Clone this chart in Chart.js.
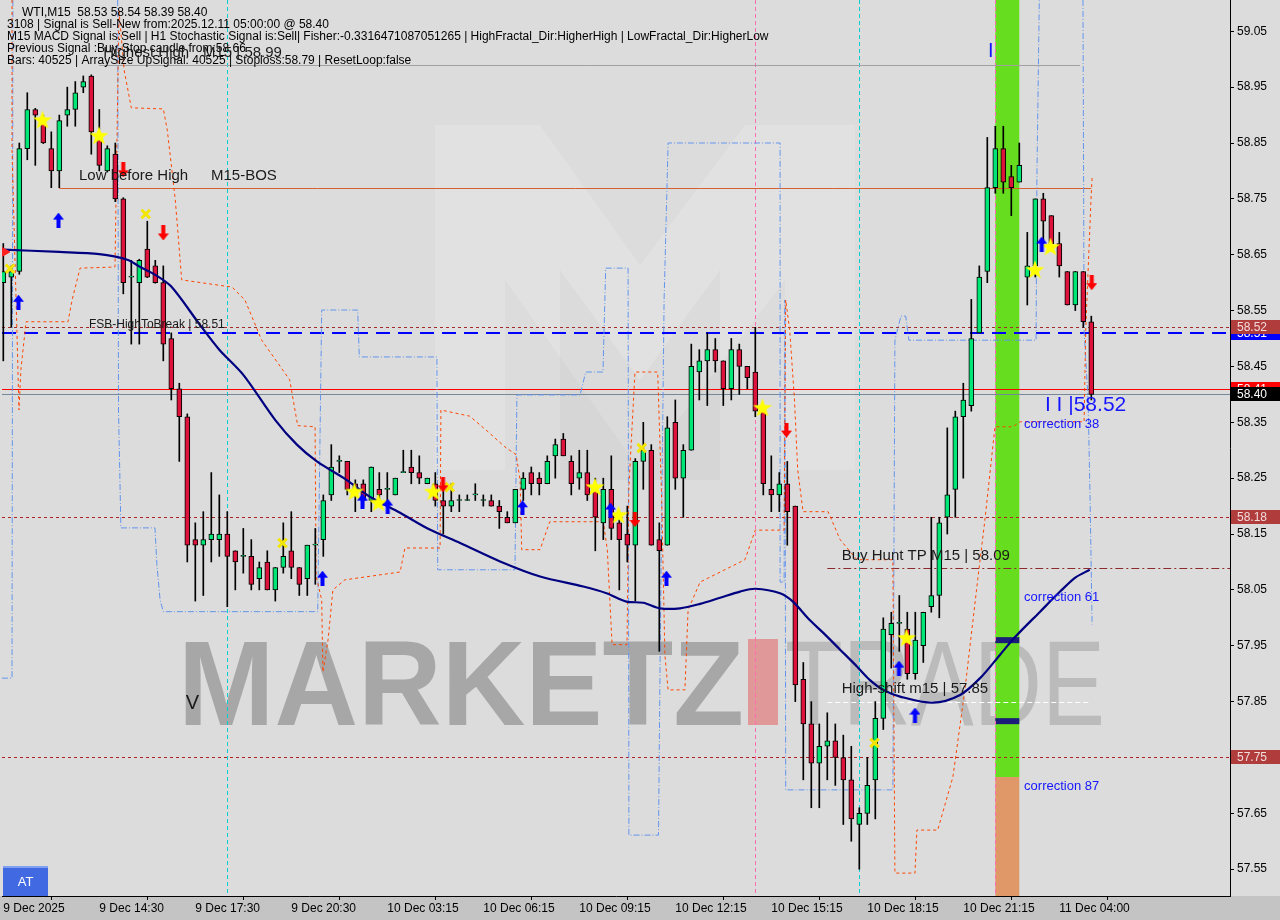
<!DOCTYPE html>
<html>
<head>
<meta charset="utf-8">
<script src="https://cdn.jsdelivr.net/npm/chart.js@4.4.1/dist/chart.umd.min.js"></script>
<style>
  html, body { margin: 0; padding: 0; background: #c4c4c4; }
  canvas { display: block; }
</style>
</head>
<body>
<canvas id="wtiChart" width="1280" height="920"></canvas>
<script>
// ---- candles (WTI, M15), one entry per bar ----
var opens  = [58.60,58.61,58.62,58.84,58.91,58.89,58.84,58.80,58.90,58.91,58.95,58.97,58.856,58.80,58.83,58.75,58.61,58.60,58.66,58.63,
              58.60,58.50,58.41,58.36,58.14,58.13,58.14,58.14,58.15,58.12,58.11,58.11,58.07,58.10,58.05,58.09,58.12,58.09,58.07,58.13,
              58.14,58.22,58.28,58.28,58.24,58.24,58.21,58.23,58.23,58.22,58.26,58.27,58.26,58.24,58.24,58.21,58.20,58.21,58.21,58.22,
              58.21,58.21,58.20,58.18,58.17,58.23,58.26,58.25,58.24,58.29,58.32,58.28,58.25,58.26,58.23,58.17,58.23,58.17,58.15,58.13,
              58.28,58.30,58.14,58.13,58.35,58.25,58.30,58.44,58.46,58.48,58.46,58.41,58.48,58.45,58.44,58.37,58.23,58.22,58.24,58.20,
              57.89,57.81,57.74,57.77,57.78,57.75,57.71,57.63,57.65,57.71,57.82,57.97,57.99,57.98,57.90,57.95,58.02,58.04,58.18,58.23,
              58.36,58.38,58.51,58.62,58.77,58.84,58.79,58.78,58.61,58.63,58.75,58.72,58.67,58.62,58.56,58.62,58.53];
var highs  = [58.67,58.63,58.85,58.94,58.912,58.90,58.87,58.90,58.95,58.96,58.97,58.972,58.91,58.845,58.85,58.752,58.64,58.642,58.71,58.64,
              58.63,58.51,58.42,58.365,58.17,58.19,58.26,58.22,58.19,58.12,58.16,58.14,58.10,58.12,58.09,58.17,58.19,58.09,58.13,58.16,
              58.22,58.31,58.29,58.28,58.247,58.247,58.27,58.26,58.26,58.25,58.30,58.30,58.29,58.25,58.26,58.24,58.24,58.22,58.22,58.24,
              58.22,58.22,58.21,58.19,58.23,58.26,58.27,58.26,58.29,58.32,58.33,58.29,58.30,58.30,58.25,58.25,58.29,58.19,58.20,58.285,
              58.35,58.31,58.17,58.36,58.39,58.31,58.49,58.48,58.51,58.50,58.46,58.50,58.49,58.45,58.52,58.37,58.29,58.26,58.28,58.20,
              57.92,57.85,57.81,57.83,57.81,57.79,57.77,57.66,57.75,57.85,58.00,58.01,58.04,58.01,58.01,58.01,58.18,58.18,58.34,58.37,
              58.42,58.57,58.63,58.86,58.88,58.88,58.81,58.85,58.69,58.75,58.76,58.72,58.69,58.62,58.62,58.62,58.54];
var lows   = [58.46,58.52,58.615,58.82,58.81,58.849,58.77,58.77,58.88,58.88,58.94,58.83,58.80,58.798,58.745,58.58,58.49,58.49,58.609,58.599,
              58.46,58.39,58.28,58.10,58.03,58.04,58.10,58.11,58.02,58.05,58.08,58.05,58.05,58.05,58.03,58.08,58.07,58.04,58.04,58.06,
              58.11,58.21,58.26,58.22,58.19,58.20,58.19,58.21,58.20,58.22,58.26,58.24,58.24,58.24,58.20,58.15,58.19,58.19,58.21,58.21,
              58.20,58.20,58.16,58.17,58.17,58.21,58.22,58.22,58.24,58.25,58.29,58.22,58.23,58.21,58.12,58.14,58.14,58.05,58.10,58.03,
              58.23,58.13,57.94,58.13,58.23,58.18,58.30,58.39,58.38,58.44,58.38,58.39,58.40,58.41,58.36,58.22,58.19,58.19,58.13,57.85,
              57.71,57.66,57.66,57.71,57.70,57.63,57.60,57.55,57.63,57.64,57.80,57.91,57.94,57.89,57.89,57.92,58.01,58.00,58.15,58.18,
              58.25,58.37,58.51,58.60,58.76,58.76,58.72,58.78,58.56,58.61,58.67,58.66,58.61,58.56,58.55,58.52,58.39];
var closes = [58.62,58.62,58.84,58.91,58.90,58.85,58.80,58.89,58.91,58.94,58.96,58.87,58.81,58.84,58.75,58.60,58.61,58.64,58.61,58.60,
              58.49,58.41,58.36,58.13,58.13,58.14,58.15,58.15,58.11,58.10,58.11,58.06,58.09,58.05,58.09,58.11,58.09,58.06,58.13,58.13,
              58.21,58.27,58.28,58.23,58.23,58.21,58.27,58.22,58.23,58.25,58.26,58.26,58.25,58.25,58.21,58.20,58.21,58.21,58.21,58.22,
              58.21,58.20,58.19,58.17,58.23,58.25,58.24,58.24,58.28,58.31,58.29,58.24,58.26,58.22,58.18,58.23,58.16,58.14,58.13,58.28,
              58.30,58.13,58.12,58.34,58.25,58.30,58.45,58.46,58.48,58.46,58.41,58.48,58.45,58.43,58.37,58.24,58.22,58.24,58.19,57.88,
              57.81,57.74,57.77,57.78,57.75,57.71,57.64,57.65,57.70,57.82,57.98,57.99,57.99,57.90,57.96,58.01,58.04,58.17,58.22,58.36,
              58.39,58.50,58.61,58.77,58.84,58.78,58.77,58.81,58.63,58.75,58.71,58.67,58.63,58.56,58.62,58.53,58.40];

// ---- axes ----
var timeTicks  = [0, 12, 24, 36, 48, 60, 72, 84, 96, 108, 120, 132];
var timeLabels = ['9 Dec 2025', '9 Dec 14:30', '9 Dec 17:30', '9 Dec 20:30', '10 Dec 03:15', '10 Dec 06:15',
                  '10 Dec 09:15', '10 Dec 12:15', '10 Dec 15:15', '10 Dec 18:15', '10 Dec 21:15', '11 Dec 04:00'];
var priceTicks = [59.05, 58.95, 58.85, 58.75, 58.65, 58.55, 58.45, 58.35, 58.25, 58.15, 58.05, 57.95, 57.85, 57.75, 57.65, 57.55];

// ---- moving average (bar index / price) ----
var maIdx = [0, 7, 12, 15.5, 17, 19, 21, 24.6, 27, 30, 34, 36.7, 39.2, 42.9, 45.8, 49.6, 53.3, 57.1, 62.1, 67.1, 72.5, 75.4, 77.9, 80,
             82.1, 84.6, 87.1, 89.6, 92.1, 94, 97.1, 98.7, 100.8, 102.5, 104.6, 106.7, 108.3, 110, 112.1, 116.2, 119.6, 122.1,
             124.6, 126.5, 129.6, 132.1, 134, 135.8];
var maVals = [58.659, 58.655, 58.651, 58.641, 58.629, 58.614, 58.593, 58.524, 58.480, 58.435, 58.354, 58.310, 58.280, 58.247, 58.217,
              58.188, 58.158, 58.134, 58.101, 58.074, 58.056, 58.044, 58.029, 58.027, 58.017, 58.017, 58.025, 58.036, 58.047, 58.052,
              58.044, 58.029, 57.996, 57.973, 57.943, 57.913, 57.889, 57.871, 57.859, 57.848, 57.862, 57.892, 57.934, 57.966,
              58.011, 58.047, 58.072, 58.086];

// ---- channel lines ----
var orangeIdx = [1.09, 1.09, 1.7, 1.96, 2.2, 2.84, 8.09, 8.6, 9.6, 13.96, 14.46, 15.1, 16, 20, 20.5, 21.5, 22.3, 28.6, 30.2, 32.3,
                 35.8, 36.8, 38.97, 39.1, 39.8, 39.95, 40.6, 41.2, 42.7, 49.6, 50.2, 54.6, 54.7, 58.3, 60.6, 62.7, 64.1, 64.6,
                 64.8, 67.1, 68.3, 75, 75.5, 76.1, 77.96, 78.2, 78.96, 81.8, 82.3, 82.7, 83.1, 85.2, 85.6, 87.1, 92.7, 94, 97.6,
                 97.8, 98.3, 98.9, 99.3, 99.97, 103.1, 104.6, 106.7, 111.2, 111.45, 113.96, 114.2, 116.8, 118.7, 120.2, 121.8,
                 122.7, 123.6, 123.96, 126.2, 127.1, 135.1, 135.3, 135.96, 136.1];
var orangeVals = [59.106, 58.838, 58.515, 58.372, 58.444, 58.530, 58.530, 58.569, 58.626, 58.628, 59.088, 58.981, 58.913, 58.911,
                  58.873, 58.748, 58.605, 58.592, 58.569, 58.497, 58.426, 58.344, 58.342, 58.075, 58.032, 57.903, 57.961, 58.050,
                  58.068, 58.082, 58.125, 58.125, 58.372, 58.361, 58.333, 58.306, 58.292, 58.247, 58.122, 58.122, 58.172, 58.172,
                  58.122, 57.952, 57.952, 58.235, 58.440, 58.440, 58.211, 57.933, 57.871, 57.871, 58.014, 58.064, 58.104, 58.157,
                  58.157, 58.569, 58.515, 58.390, 58.265, 58.190, 58.190, 58.140, 58.104, 58.104, 57.543, 57.543, 57.620, 57.620,
                  57.715, 57.871, 58.068, 58.175, 58.295, 58.342, 58.342, 58.351, 58.351, 58.515, 58.748, 58.789];
var blueIdxA = [-0.16, 1.09, 1.2];
var blueValsA = [57.892, 57.892, 59.106];
var blueIdxB = [14.3, 14.4, 14.7, 18.96, 19.2, 19.6, 20, 39.3, 39.8, 44.3, 44.5, 54.2, 54.3, 63.96, 64.2, 72.1, 72.8, 74.96, 75.3,
                78.1, 78.2, 81.9, 82.1, 82.6, 83.1, 97.1, 97.1, 97.6, 97.7, 97.8, 111.2, 111.45, 112.2, 112.8, 113.2, 129.1,
                129.2, 129.5];
var blueValsB = [59.106, 58.372, 58.161, 58.161, 58.095, 58.032, 58.011, 58.011, 58.551, 58.551, 58.467, 58.467, 58.086, 58.086,
                 58.399, 58.399, 58.440, 58.440, 58.626, 58.626, 57.611, 57.611, 57.925, 58.569, 58.850, 58.850, 58.064, 58.064,
                 58.569, 57.692, 57.692, 58.497, 58.540, 58.540, 58.497, 58.497, 58.789, 59.106];
var blueIdxC = [134.96, 135.1, 135.6, 135.85, 136.1];
var blueValsC = [59.106, 58.515, 58.390, 58.211, 57.988];

// ---- signal markers ----
var upIdx    = [1.9, 6.9, 39.9, 44.9, 48.05, 64.9, 75.9, 82.9, 111.96, 113.96, 129.8];
var upVals   = [58.565, 58.712, 58.071, 58.209, 58.200, 58.197, 58.193, 58.071, 57.910, 57.826, 58.669];
var downIdx  = [15, 20, 54.96, 78.96, 97.9, 136.05];
var downVals = [58.802, 58.689, 58.238, 58.176, 58.336, 58.600];
var starIdx  = [4.9, 11.96, 43.9, 46.9, 53.75, 73.96, 76.9, 94.9, 112.9, 128.96, 130.9];
var starVals = [58.891, 58.863, 58.226, 58.206, 58.226, 58.234, 58.184, 58.376, 57.964, 58.623, 58.664];
var crossIdx  = [0.84, 17.8, 34.9, 55.8, 79.8, 108.9];
var crossVals = [58.625, 58.723, 58.134, 58.234, 58.304, 57.776];

// ---- levels ----
var highestHigh = 58.99, lowBeforeHigh = 58.77, fsbHigh = 58.51, buyHuntTP = 58.09, highShift = 57.85;
var sellLevel = 58.52, bidLine = 58.41, lastPrice = 58.40, level1 = 58.18, level2 = 57.75;
var sessionIdx = [28, 94, 107, 124];
var zoneIdx = [124, 127];
var zoneSplit = 57.715;
var zoneMarks = [57.96, 57.815];

var headerLines = [
  'WTI,M15  58.53 58.54 58.39 58.40',
  '3108 | Signal is Sell-New from:2025.12.11 05:00:00 @ 58.40',
  'M15 MACD Signal is:Sell | H1 Stochastic Signal is:Sell| Fisher:-0.3316471087051265 | HighFractal_Dir:HigherHigh | LowFractal_Dir:HigherLow',
  'Previous Signal :Buy-Stop candle from:58.66',
  'Bars: 40525 | ArraySize UpSignal: 40525 | Stoploss:58.79 | ResetLoop:false'
];

function pairs(xs, ys) { return xs.map(function(x, i) { return {x: x, y: ys[i]} }) }

function arrowCanvas(color, down) {
  var cv = document.createElement('canvas'); cv.width = 11; cv.height = 15
  var g = cv.getContext('2d')
  if (down) { g.translate(0, 15); g.scale(1, -1) }
  g.fillStyle = color
  g.beginPath(); g.moveTo(5.5, 0); g.lineTo(11, 7); g.lineTo(7.5, 7); g.lineTo(7.5, 15)
  g.lineTo(3.5, 15); g.lineTo(3.5, 7); g.lineTo(0, 7); g.closePath(); g.fill()
  return cv
}
function starCanvas() {
  var cv = document.createElement('canvas'); cv.width = 20; cv.height = 20
  var g = cv.getContext('2d')
  g.fillStyle = '#ffff00'; g.beginPath()
  for (var i = 0; i < 10; i++) {
    var r = i % 2 ? 4 : 10, a = -Math.PI / 2 + i * Math.PI / 5
    g.lineTo(10 + r * Math.cos(a), 10.5 + r * Math.sin(a))
  }
  g.closePath(); g.fill()
  return cv
}

var bodyData = opens.map(function(o, i) { return {x: i, y: [o, closes[i]]} })
var wickData = lows.map(function(l, i) { return {x: i, y: [l, highs[i]]} })
var bodyColors = opens.map(function(o, i) { return closes[i] >= o ? '#00e676' : '#dc143c' })

var mtDecor = {
  id: 'mtDecor',
  beforeDraw: function(chart) {
    var c = chart.ctx, a = chart.chartArea
    c.save()
    c.fillStyle = '#dcdcdc'; c.fillRect(0, 0, chart.width, chart.height)
    c.fillStyle = '#c4c4c4'; c.fillRect(0, a.bottom, chart.width, chart.height - a.bottom)
    // faint logo
    c.fillStyle = 'rgba(255,255,255,0.14)'
    c.beginPath(); c.moveTo(435, 125); c.lineTo(540, 125); c.lineTo(640, 265); c.lineTo(745, 125); c.lineTo(855, 125)
    c.lineTo(855, 470); c.lineTo(785, 470); c.lineTo(785, 280); c.lineTo(640, 470); c.lineTo(505, 280); c.lineTo(505, 470)
    c.lineTo(435, 470); c.closePath(); c.fill()
    c.fillStyle = 'rgba(150,150,150,0.08)'
    c.beginPath(); c.moveTo(560, 270); c.lineTo(640, 380); c.lineTo(720, 270); c.lineTo(720, 480); c.lineTo(560, 480); c.closePath(); c.fill()
    // watermark text
    c.textBaseline = 'alphabetic'
    c.font = 'bold 121px "Liberation Sans"'
    c.fillStyle = 'rgba(150,150,150,0.75)'
    c.fillText('MARKETZ', 178, 725, 566)
    c.fillStyle = 'rgba(226,130,130,0.75)'
    c.fillRect(748, 639, 30, 86)
    c.font = '121px "Liberation Sans"'
    c.fillStyle = 'rgba(165,165,165,0.6)'
    c.fillText('TRADE', 785, 725, 320)
    c.restore()
  },
  beforeDatasetsDraw: function(chart) {
    var c = chart.ctx, a = chart.chartArea, xs = chart.scales.x, ys = chart.scales.y
    c.save()
    c.beginPath(); c.rect(a.left, a.top, a.right - a.left, a.bottom - a.top); c.clip()
    // zone band
    var x0 = xs.getPixelForValue(zoneIdx[0]), x1 = xs.getPixelForValue(zoneIdx[1]), ySplit = ys.getPixelForValue(zoneSplit)
    c.fillStyle = '#66dd1e'; c.fillRect(x0, a.top, x1 - x0, ySplit - a.top)
    c.fillStyle = '#e09868'; c.fillRect(x0, ySplit, x1 - x0, a.bottom - ySplit)
    c.fillStyle = '#1c1c7a'
    zoneMarks.forEach(function(p) { var y = ys.getPixelForValue(p); c.fillRect(x0, y - 3, x1 - x0, 6) })
    // session separators
    var sepColors = ['#00d0d0', '#ff6fb0', '#00d0d0', '#ff6fb0']
    sessionIdx.forEach(function(k, i) {
      var x = Math.round(xs.getPixelForValue(k)) + 0.5
      c.strokeStyle = sepColors[i]; c.lineWidth = 1; c.setLineDash([4, 3])
      c.beginPath(); c.moveTo(x, a.top); c.lineTo(x, a.bottom); c.stroke()
    })
    function hline(p, k0, k1, color, width, dash) {
      var y = Math.round(ys.getPixelForValue(p)) + (width % 2 ? 0.5 : 0)
      c.strokeStyle = color; c.lineWidth = width; c.setLineDash(dash)
      c.beginPath(); c.moveTo(k0 == null ? a.left : xs.getPixelForValue(k0), y)
      c.lineTo(k1 == null ? a.right : xs.getPixelForValue(k1), y); c.stroke()
    }
    hline(highestHigh, 12, 134.6, '#a0a0a0', 1, [])
    hline(lowBeforeHigh, 7, 136, '#d8602e', 1, [])
    hline(sellLevel, null, null, '#a52a2a', 1, [3, 3])
    hline(fsbHigh, null, null, '#0000ff', 2, [14, 8])
    hline(bidLine, null, null, '#ff0000', 1, [])
    hline(lastPrice, null, null, '#778899', 1, [])
    hline(level1, null, null, '#b22222', 1, [3, 3])
    hline(level2, null, null, '#b22222', 1, [3, 3])
    hline(buyHuntTP, 103, null, '#8a2a2a', 1, [8, 3, 2, 3])
    hline(highShift, 103, 136, '#ffffff', 1, [5, 3])
    c.restore()
  },
  afterDatasetsDraw: function(chart) {
    var c = chart.ctx, xs = chart.scales.x, ys = chart.scales.y
    function px(k) { return xs.getPixelForValue(k) }
    function py(p) { return ys.getPixelForValue(p) }
    c.save()
    c.textBaseline = 'middle'
    c.fillStyle = '#000000'
    c.font = '12px "Liberation Sans"'
    headerLines.forEach(function(t, i) { c.fillText(t, i === 0 ? 22 : 7, 13 + i * 12) })
    c.fillStyle = '#1a1a1a'
    c.font = '15px "Liberation Sans"'
    c.fillText('Highest High', px(12.5), py(highestHigh) - 12)
    c.fillText('M15 | 58.99', px(24.96), py(highestHigh) - 12)
    c.fillText('Low before High', px(9.46), py(lowBeforeHigh) - 12)
    c.fillText('M15-BOS', px(25.96), py(lowBeforeHigh) - 12)
    c.fillText('Buy Hunt TP M15 | 58.09', px(104.8), py(buyHuntTP) - 12)
    c.fillText('High-shift m15 | 57.85', px(104.8), py(highShift) - 13)
    c.font = '12px "Liberation Sans"'
    c.fillText('FSB-HighToBreak | 58.51', px(10.7), py(fsbHigh) - 8)
    c.font = '20px "Liberation Sans"'
    c.fillText('V', px(22.8), py(57.846))
    c.fillStyle = '#1515ff'
    c.fillText('I', px(123.1), py(59.013))
    c.font = '21px "Liberation Sans"'
    c.fillText('I I |58.52', px(130.2), py(58.381))
    c.font = '13px "Liberation Sans"'
    c.fillText('correction 38', px(127.6), py(58.347))
    c.fillText('correction 61', px(127.6), py(58.037))
    c.fillText('correction 87', px(127.6), py(57.699))
    c.restore()
  },
  afterDraw: function(chart) {
    var c = chart.ctx, ys = chart.scales.y, a = chart.chartArea
    var boxLevels = [fsbHigh, sellLevel, bidLine, lastPrice, level1, level2]
    var boxFill = ['#0000ff', '#b03c3c', '#ff0000', '#000000', '#b03c3c', '#b03c3c']
    var boxText = ['#ffffff', '#f2dcdc', '#ffffff', '#ffffff', '#f2dcdc', '#f2dcdc']
    c.save()
    c.font = '12px "Liberation Sans"'; c.textBaseline = 'middle'
    boxLevels.forEach(function(p, i) {
      var y = Math.round(ys.getPixelForValue(p))
      c.fillStyle = boxFill[i]; c.fillRect(a.right + 1, y - 7, chart.width - a.right - 1, 14)
      c.fillStyle = boxText[i]; c.fillText(p.toFixed(2), a.right + 7, y + 1)
    })
    c.fillStyle = '#4169e1'; c.fillRect(3, a.bottom - 30, 45, 30)
    c.fillStyle = '#7fa0f0'; c.fillRect(3, a.bottom - 30, 45, 2)
    c.fillStyle = '#ffffff'; c.font = '13px "Liberation Sans"'; c.textAlign = 'center'
    c.fillText('AT', 25.5, a.bottom - 14)
    c.restore()
  }
}

var ctx = document.getElementById('wtiChart').getContext('2d')
new Chart(ctx, {
  type: 'bar',
  data: {
    datasets: [
      { type: 'line', data: pairs(upIdx, upVals), showLine: false, pointStyle: arrowCanvas('#0000ff', false), order: -1 },
      { type: 'line', data: pairs(downIdx, downVals), showLine: false, pointStyle: arrowCanvas('#ff0000', true), order: -1 },
      { type: 'line', data: pairs(starIdx, starVals), showLine: false, pointStyle: starCanvas(), order: -1 },
      { type: 'line', data: pairs(crossIdx, crossVals), showLine: false, pointStyle: 'crossRot', pointRadius: 6,
        pointBorderWidth: 3, pointBorderColor: '#f2e600', order: -1 },
      { type: 'line', data: [{x: 0.2, y: 58.655}], showLine: false, pointStyle: 'triangle', rotation: 90, pointRadius: 5,
        pointBackgroundColor: '#ff2020', pointBorderColor: '#ff2020', order: -1 },
      { type: 'line', data: pairs(maIdx, maVals), borderColor: '#000080', borderWidth: 2.2, pointRadius: 0, tension: 0.3, order: 0 },
      { data: bodyData, backgroundColor: bodyColors, borderColor: '#000000', borderWidth: 1, borderSkipped: false,
        barThickness: 5, minBarLength: 1, grouped: false, order: 1 },
      { data: wickData, backgroundColor: '#000000', borderWidth: 0, barThickness: 1, grouped: false, order: 2 },
      { type: 'line', data: pairs(orangeIdx, orangeVals), borderColor: '#ff4500', borderWidth: 1, borderDash: [3, 3],
        pointRadius: 0, tension: 0, order: 3 },
      { type: 'line', data: pairs(blueIdxA, blueValsA), borderColor: '#6495ed', borderWidth: 1, borderDash: [6, 2, 1, 2],
        pointRadius: 0, tension: 0, order: 3 },
      { type: 'line', data: pairs(blueIdxB, blueValsB), borderColor: '#6495ed', borderWidth: 1, borderDash: [6, 2, 1, 2],
        pointRadius: 0, tension: 0, order: 3 },
      { type: 'line', data: pairs(blueIdxC, blueValsC), borderColor: '#6495ed', borderWidth: 1, borderDash: [6, 2, 1, 2],
        pointRadius: 0, tension: 0, order: 3 }
    ]
  },
  options: {
    responsive: false,
    animation: false,
    layout: { autoPadding: false, padding: { left: 2, top: 0, right: 0, bottom: 0 } },
    plugins: { legend: { display: false }, tooltip: { enabled: false } },
    scales: {
      x: {
        type: 'linear', min: -0.1625, max: 153.3375, offset: false,
        grid: { drawOnChartArea: false, drawTicks: true, tickLength: 4, color: '#000000' },
        border: { display: true, color: '#000000', width: 1 },
        afterBuildTicks: function(s) { s.ticks = timeTicks.map(function(v) { return {value: v} }) },
        afterFit: function(s) { s.height = 24; s.paddingLeft = 0; s.paddingRight = 0 },
        ticks: {
          autoSkip: false, maxRotation: 0, align: 'start', padding: 1, color: '#000000',
          font: { family: 'Liberation Sans', size: 12 },
          callback: function(v) { var i = timeTicks.indexOf(v); return i >= 0 ? timeLabels[i] : '' }
        }
      },
      y: {
        position: 'right', min: 57.502, max: 59.106,
        grid: { drawOnChartArea: false, drawTicks: true, tickLength: 4, color: '#000000' },
        border: { display: true, color: '#000000', width: 1 },
        afterBuildTicks: function(s) { s.ticks = priceTicks.map(function(v) { return {value: v} }) },
        afterFit: function(s) { s.width = 50; s.paddingTop = 0; s.paddingBottom = 0 },
        ticks: {
          padding: 3, color: '#000000', font: { family: 'Liberation Sans', size: 12 },
          callback: function(v) { return v.toFixed(2) }
        }
      }
    }
  },
  plugins: [mtDecor]
})
</script>
</body>
</html>
